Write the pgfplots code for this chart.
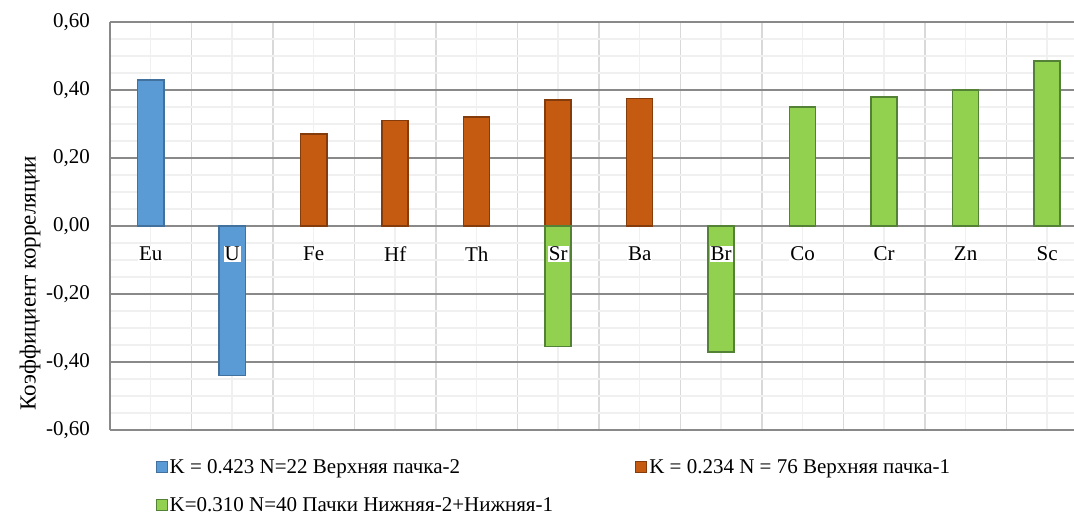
\documentclass[border=0pt]{standalone}
\usepackage{pgfplots}
\pgfplotsset{compat=1.18}
\usepackage{fontspec}
\setmainfont{Liberation Serif}
\definecolor{bluef}{HTML}{5B9BD5}
\definecolor{blued}{HTML}{41719C}
\definecolor{orf}{HTML}{C55A11}
\definecolor{ord}{HTML}{843C0C}
\definecolor{grf}{HTML}{92D050}
\definecolor{grd}{HTML}{538135}
\definecolor{axgray}{HTML}{898989}
\definecolor{gridmaj}{HTML}{D9D9D9}
\definecolor{gridmin}{HTML}{F0F0F0}
\newcommand{\fs}{\fontsize{21bp}{24bp}\selectfont}
\begin{document}
\begin{tikzpicture}
\begin{axis}[
 at={(0,0)}, anchor=south west,
 scale only axis, width=964bp, height=408bp,
 xmin=-0.5, xmax=11.33, ymin=-0.6, ymax=0.6,
 axis lines*=left,
 axis line style={-, draw=axgray, line width=1.5bp},
 xtick={0,1,2,3,4,5,6,7,8,9,10,11},
 xticklabels={},
 minor xtick={-0.5,0.5,1.5,2.5,3.5,4.5,5.5,6.5,7.5,8.5,9.5,10.5},
 ytick={-0.6,-0.4,-0.2,0,0.2,0.4,0.6},
 yticklabels={{-0,60},{-0,40},{-0,20},{0,00},{0,20},{0,40},{0,60}},
 minor y tick num=3,
 grid=both,
 major x grid style={draw=gridmin, line width=1.5bp},
 minor x grid style={draw=gridmaj, line width=1.5bp},
 major y grid style={draw=axgray, line width=1.5bp},
 minor y grid style={draw=gridmin, line width=1.5bp},
 major tick length=0pt, minor tick length=0pt,
 tick style={draw=none},
 yticklabel style={anchor=east, inner sep=0pt, xshift=-20bp, font=\fs},
 ylabel={Коэффициент корреляции},
 ylabel style={at={(axis description cs:-0.083,0.36)}, anchor=center, font=\fontsize{23bp}{26bp}\selectfont},
 legend columns=2,
 legend cell align=left,
 legend style={at={(axis description cs:0.047,-0.066)}, anchor=north west, draw=none, fill=none, font=\fs,
   /tikz/every even column/.append style={column sep=80bp}, row sep=19bp, inner sep=0pt},
 legend image code/.code={\draw[#1, line width=1.2bp] (0bp,-5.5bp) rectangle (11bp,5.5bp);},
]
\addplot[ybar, bar shift=0pt, bar width=0.32, fill=bluef, draw=blued, line width=1.5bp]
 coordinates {(0,0.43) (1,-0.44)};
\addlegendentry{K = 0.423 N=22 Верхняя пачка-2}
\addplot[ybar, bar shift=0pt, bar width=0.32, fill=orf, draw=ord, line width=1.5bp]
 coordinates {(2,0.27) (3,0.31) (4,0.32) (5,0.37) (6,0.375)};
\addlegendentry{K = 0.234 N = 76 Верхняя пачка-1}
\addplot[ybar, bar shift=0pt, bar width=0.32, fill=grf, draw=grd, line width=1.5bp]
 coordinates {(5,-0.355) (7,-0.37) (8,0.35) (9,0.38) (10,0.40) (11,0.485)};
\addlegendentry{K=0.310 N=40 Пачки Нижняя-2+Нижняя-1}
\addplot[draw=none, mark=none, forget plot, point meta=explicit symbolic,
  nodes near coords, nodes near coords align={center},
  every node near coord/.append style={anchor=center, yshift=-28bp, fill=white, inner sep=1bp, text=black, font=\fs}]
 coordinates {(0,0)[Eu] (1,0)[U] (2,0)[Fe] (3,0)[Hf] (4,0)[Th] (5,0)[Sr] (6,0)[Ba] (7,0)[Br] (8,0)[Co] (9,0)[Cr] (10,0)[Zn] (11,0)[Sc]};
\end{axis}
\pgfresetboundingbox
\useasboundingbox (-110bp,-87bp) rectangle (964bp,430bp);
\end{tikzpicture}
\end{document}
